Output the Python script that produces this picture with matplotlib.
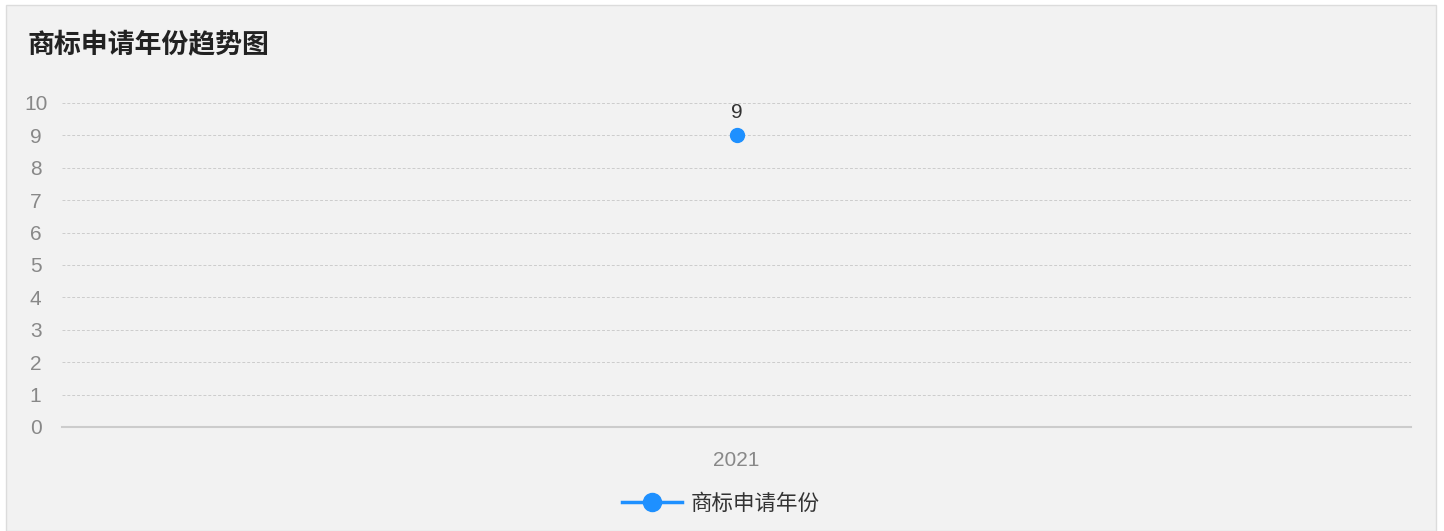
import matplotlib.pyplot as plt
from matplotlib.patches import Rectangle

plt.rcParams['font.family'] = ['Liberation Sans', 'Noto Sans CJK SC', 'DejaVu Sans']

years = ['2021']
counts = [9]
series_name = '商标申请年份'
title = '商标申请年份趋势图'
yticks = list(range(0, 11))

W, H = 1444, 531
fig = plt.figure(figsize=(W / 100, H / 100), dpi=100)
fig.patch.set_facecolor('white')
# panel background with thin border
fig.patches.append(Rectangle((6 / W, 0), 1430 / W, 526 / H, transform=fig.transFigure,
                             facecolor='#f2f2f2', edgecolor='#dcdcdc', linewidth=1, zorder=-1))

ax = fig.add_axes([62 / W, 1 - 427 / H, (1411 - 62) / W, (427 - 103) / H])
ax.set_facecolor('none')
x = list(range(len(years)))
line, = ax.plot(x, counts, color='#1e90ff', marker='o', markersize=10, linewidth=2.5,
                label=series_name, zorder=3, clip_on=False)
for xi, v in zip(x, counts):
    ax.annotate(str(v), (xi, v), xytext=(0, 10), textcoords='offset points',
                ha='center', va='bottom', fontsize=15, color='#333333')

ax.set_xlim(-0.5, len(years) - 0.5)
ax.set_ylim(0, 10)
ax.set_yticks(yticks)
ax.set_xticks(x)
ax.set_xticklabels(years)
ax.tick_params(axis='both', length=0, labelsize=15, labelcolor='#888888')
ax.tick_params(axis='x', pad=17)
ax.tick_params(axis='y', pad=19)
for lbl in ax.get_yticklabels():
    lbl.set_horizontalalignment('center')
    lbl.set_verticalalignment('center_baseline')
ax.grid(axis='y', color='#cccccc', linestyle=(0, (3, 2)), linewidth=0.7)
for s in ['top', 'right', 'left']:
    ax.spines[s].set_visible(False)
ax.spines['bottom'].set_color('#cccccc')
ax.spines['bottom'].set_linewidth(1.5)

fig.text(28 / W, 1 - 46 / H, title, fontsize=19.4, fontweight='bold', color='#222222',
         ha='left', va='center')

leg = fig.legend(handles=[line], loc='center', bbox_to_anchor=(721 / W, 1 - 504 / H),
                 frameon=False, fontsize=15.5, handlelength=2.8, handletextpad=0.4,
                 markerscale=1.3)
for t in leg.get_texts():
    t.set_color('#333333')

fig.savefig('out.png', dpi=100)
